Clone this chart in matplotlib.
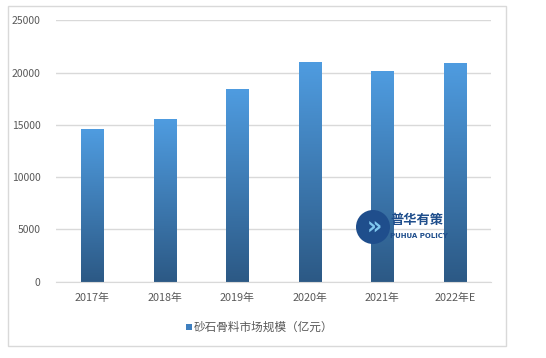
import matplotlib
matplotlib.use("Agg")
import matplotlib.pyplot as plt
import numpy as np
from matplotlib.patches import Rectangle, Ellipse
from matplotlib.colors import LinearSegmentedColormap

plt.rcParams['font.family'] = ['Noto Sans CJK SC', 'DejaVu Sans']

categories = ["2017年", "2018年", "2019年", "2020年", "2021年", "2022年E"]
values = [14600, 15560, 18430, 21010, 20150, 20920]
yticks = [0, 5000, 10000, 15000, 20000, 25000]
legend_label = "砂石骨料市场规模（亿元）"

W, H = 546, 358
fig = plt.figure(figsize=(W/100, H/100), dpi=100)
fig.patch.set_facecolor("white")
ax = fig.add_axes([56/W, 1-281.7/H, (491-56)/W, (281.7-20.3)/H])

# outer border
fig.add_artist(Rectangle((8/W, 1-346/H), (506-8)/W, (346-6)/H,
                         transform=fig.transFigure, fill=False, edgecolor="#D9D9D9", lw=1))

cmap = LinearSegmentedColormap.from_list("g", ["#2C5985", "#4F9CE0"])
grad = np.linspace(0, 1, 256).reshape(-1, 1)
width = 0.31
x = np.arange(len(categories))
bars = ax.bar(x, values, width=width, color="none", edgecolor="none", zorder=2)
for b, v in zip(bars, values):
    ax.imshow(grad, cmap=cmap, origin="lower", aspect="auto",
              extent=(b.get_x(), b.get_x() + b.get_width(), 0, v), zorder=2)

ax.set_xlim(-0.5, len(categories) - 0.5)
ax.set_ylim(0, 25000)
ax.set_yticks(yticks)
ax.set_yticklabels([str(t) for t in yticks])
ax.set_xticks(x)
ax.set_xticklabels(categories)
ax.yaxis.grid(True, color="#D9D9D9", lw=1, zorder=0)
ax.set_axisbelow(True)
for s in ["top", "right", "left"]:
    ax.spines[s].set_visible(False)
ax.spines["bottom"].set_color("#D9D9D9")
ax.tick_params(axis="y", length=0, labelsize=7.5, labelcolor="#595959", pad=11)
ax.tick_params(axis="x", length=0, labelsize=7.8, labelcolor="#595959", pad=8)

# legend
fig.add_artist(Rectangle((186/W, 1-330/H), 6/W, 6/H, transform=fig.transFigure,
                         facecolor="#3F7FBF", edgecolor="none"))
fig.text(194/W, 1-327/H, legend_label, fontsize=8.4, color="#595959",
         ha="left", va="center")

# watermark logo
fig.add_artist(Ellipse((373/W, 1-227/H), 34/W, 34/H, transform=fig.transFigure,
                       facecolor="#1F4E8C", edgecolor="none", zorder=5))
fig.text(374/W, 1-228/H, "»", fontsize=17, color="#7FC8F0", ha="center",
         va="center", fontweight="bold", family=["DejaVu Sans"], zorder=6)
fig.text(390/W, 1-220/H, "普华有策", fontsize=9.5, color="#1F4E8C",
         fontweight="bold", ha="left", va="center", zorder=6)
fig.text(390/W, 1-236/H, "PUHUA POLICY", fontsize=5, color="#1F4E8C",
         fontweight="bold", ha="left", va="center", family=["DejaVu Sans"], zorder=6)

fig.savefig("out.png", dpi=100)
